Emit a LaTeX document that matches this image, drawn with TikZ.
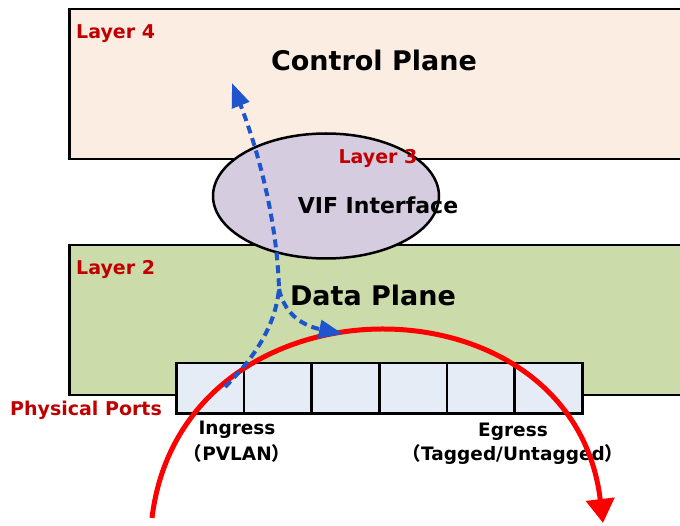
\documentclass[tikz,border=0pt]{standalone}
\usepackage{fontspec}
\setmainfont{DejaVu Sans}
\newfontfamily\cjk{Noto Sans CJK SC}
\usetikzlibrary{arrows.meta,shapes.geometric}
\definecolor{cpfill}{RGB}{252,237,226}
\definecolor{dpfill}{RGB}{204,219,170}
\definecolor{viffill}{RGB}{213,204,224}
\definecolor{portfill}{RGB}{230,236,246}
\definecolor{lblred}{RGB}{192,0,0}
\definecolor{arrred}{RGB}{255,0,0}
\definecolor{arrblue}{RGB}{30,85,205}
\begin{document}
\begin{tikzpicture}[x=1pt,y=-1pt,
  plane/.style={draw=black,line width=2.5pt,anchor=north west,inner sep=0pt,minimum width=640pt,minimum height=150pt},
  layerlbl/.style={text=lblred,font=\fontsize{19}{22}\selectfont\bfseries,anchor=base west,inner sep=0pt},
  titletext/.style={font=\fontsize{27}{32}\selectfont\bfseries,anchor=base,inner sep=0pt},
  portcell/.style={draw=black,line width=2.5pt,fill=portfill,minimum width=67.67pt,minimum height=50pt,inner sep=0pt,anchor=north west},
  captiontext/.style={font=\fontsize{18.5}{22}\selectfont\bfseries,anchor=base,inner sep=0pt},
  redflow/.style={draw=arrred,line width=5pt,-{Triangle[length=24pt,width=28pt]}},
  blueflow/.style={draw=arrblue,line width=4pt,dash pattern=on 8pt off 5pt,-{Triangle[length=24pt,width=18pt]}},
]
\useasboundingbox (0,0) rectangle (680,526);
% planes
\node[plane,fill=cpfill] (cp) at (68,8) {};
\node[plane,fill=dpfill] (dp) at (68,244) {};
\node[draw=black,line width=2.5pt,fill=viffill,ellipse,minimum width=226pt,minimum height=125pt,inner sep=0pt] (vif) at (326,196) {};
% ports
\foreach \i in {0,...,5} {
  \node[portcell] (p\i) at ({175+67.67*\i},362) {};
}
% texts
\node[layerlbl] (l4) at (76,39) {Layer 4};
\node[titletext] (cpt) at (374,71) {Control Plane};
\node[layerlbl,anchor=base] (l3) at (378,164) {Layer 3};
\node[titletext,font=\fontsize{22}{26}\selectfont\bfseries] (vift) at (378,214) {VIF Interface};
\node[layerlbl] (l2) at (76,275) {Layer 2};
\node[titletext] (dpt) at (373,306) {Data Plane};
\node[layerlbl] (pp) at (10,415) {Physical Ports};
\node[captiontext] (ing) at (237,435) {Ingress};
\node[captiontext] (ingv) at (237,460) {{\cjk （}PVLAN{\cjk ）}};
\node[captiontext] (egr) at (513,436) {Egress};
\node[captiontext] (egrv) at (513,460) {{\cjk （}Tagged/Untagged{\cjk ）}};
% flows
\coordinate (rs) at (152,518);
\coordinate (re) at (603,523);
\draw[redflow] (rs) .. controls (182,269) and (573,269) .. (re);
\coordinate (b0) at (225,387);
\coordinate (bj) at (279,289);
\coordinate (bt) at (232,83);
\coordinate (bb) at (343,334);
\draw[blueflow] (b0) .. controls (250,362) and (275,330) .. (bj) .. controls (277,220) and (258,150) .. (bt);
\draw[blueflow] (bj) .. controls (284,312) and (300,325) .. (bb);
\end{tikzpicture}
\end{document}
